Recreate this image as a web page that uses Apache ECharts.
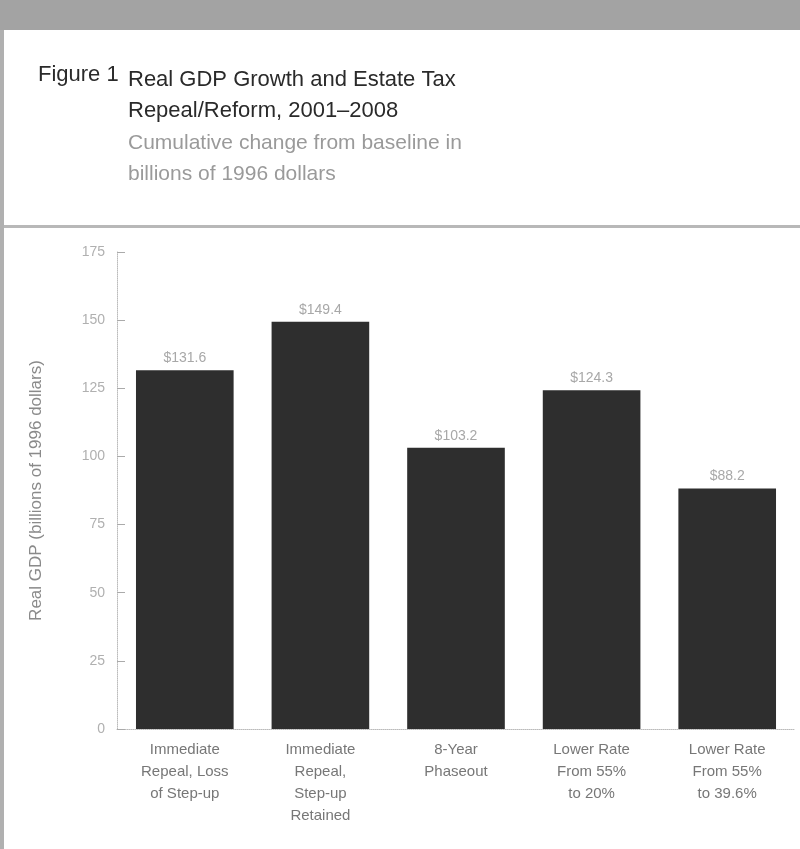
<!DOCTYPE html>
<html>
<head>
<meta charset="utf-8">
<script src="https://cdn.jsdelivr.net/npm/echarts@6/dist/echarts.min.js"></script>
<style>
  html, body { margin: 0; padding: 0; background: #fff; }
  #chart { width: 800px; height: 849px; }
</style>
</head>
<body>
<div id="chart"></div>
<script>
// categories and values
var categories = [
    'Immediate\nRepeal, Loss\nof Step-up',
    'Immediate\nRepeal,\nStep-up\nRetained',
    '8-Year\nPhaseout',
    'Lower Rate\nFrom 55%\nto 20%',
    'Lower Rate\nFrom 55%\nto 39.6%'
];
var gdpValues = [131.6, 149.4, 103.2, 124.3, 88.2];
var yTicks = [0, 25, 50, 75, 100, 125, 150, 175];

var chart = echarts.init(document.getElementById('chart'));

var option = {
    backgroundColor: '#fff',
    animation: false,
    textStyle: { fontFamily: 'Liberation Sans, Arial, sans-serif' },
    graphic: [
        // grey band on top
        { type: 'rect', left: 0, top: 0, shape: { width: 800, height: 30 }, style: { fill: '#a3a3a3' } },
        // left border
        { type: 'rect', left: 0, top: 30, shape: { width: 4, height: 819 }, style: { fill: '#b0b0b0' } },
        // separator under title
        { type: 'rect', left: 4, top: 225, shape: { width: 796, height: 3 }, style: { fill: '#b8b8b8' } },
        { type: 'text', left: 38, top: 64, style: { text: 'Figure 1', font: '22px Liberation Sans', fill: '#2a2a2a' } },
        { type: 'text', left: 128, top: 64, style: { text: 'Real GDP Growth and Estate Tax\nRepeal/Reform, 2001\u20132008', font: '22px Liberation Sans', lineHeight: 31, fill: '#2a2a2a' } },
        { type: 'text', left: 128, top: 128, style: { text: 'Cumulative change from baseline in\nbillions of 1996 dollars', font: '21px Liberation Sans', lineHeight: 31, fill: '#9a9a9a' } }
    ],
    grid: { left: 117, right: 5, top: 252, bottom: 120 },
    xAxis: {
        type: 'category',
        data: categories,
        axisLine: { lineStyle: { color: '#bbb', type: 'dotted' } },
        axisTick: { show: false },
        axisLabel: { color: '#777', fontSize: 15, lineHeight: 22, margin: 10, interval: 0 }
    },
    yAxis: {
        type: 'value',
        min: 0,
        max: yTicks[yTicks.length - 1],
        interval: 25,
        name: 'Real GDP (billions of 1996 dollars)',
        nameLocation: 'middle',
        nameGap: 72,
        nameTextStyle: { color: '#8a8a8a', fontSize: 17 },
        axisLine: { show: true, lineStyle: { color: '#bbb', type: 'dotted' } },
        axisTick: { show: true, inside: true, length: 8, lineStyle: { color: '#aaa' } },
        axisLabel: { color: '#b0b0b0', fontSize: 14, margin: 12 },
        splitLine: { show: false }
    },
    series: [{
        type: 'bar',
        data: gdpValues,
        barCategoryGap: '28%',
        itemStyle: { color: '#2e2e2e' },
        label: {
            show: true,
            position: 'top',
            distance: 5,
            color: '#a8a8a8',
            fontSize: 14,
            formatter: function (p) { return '$' + p.value.toFixed(1); }
        }
    }]
};

chart.setOption(option);
</script>
</body>
</html>
